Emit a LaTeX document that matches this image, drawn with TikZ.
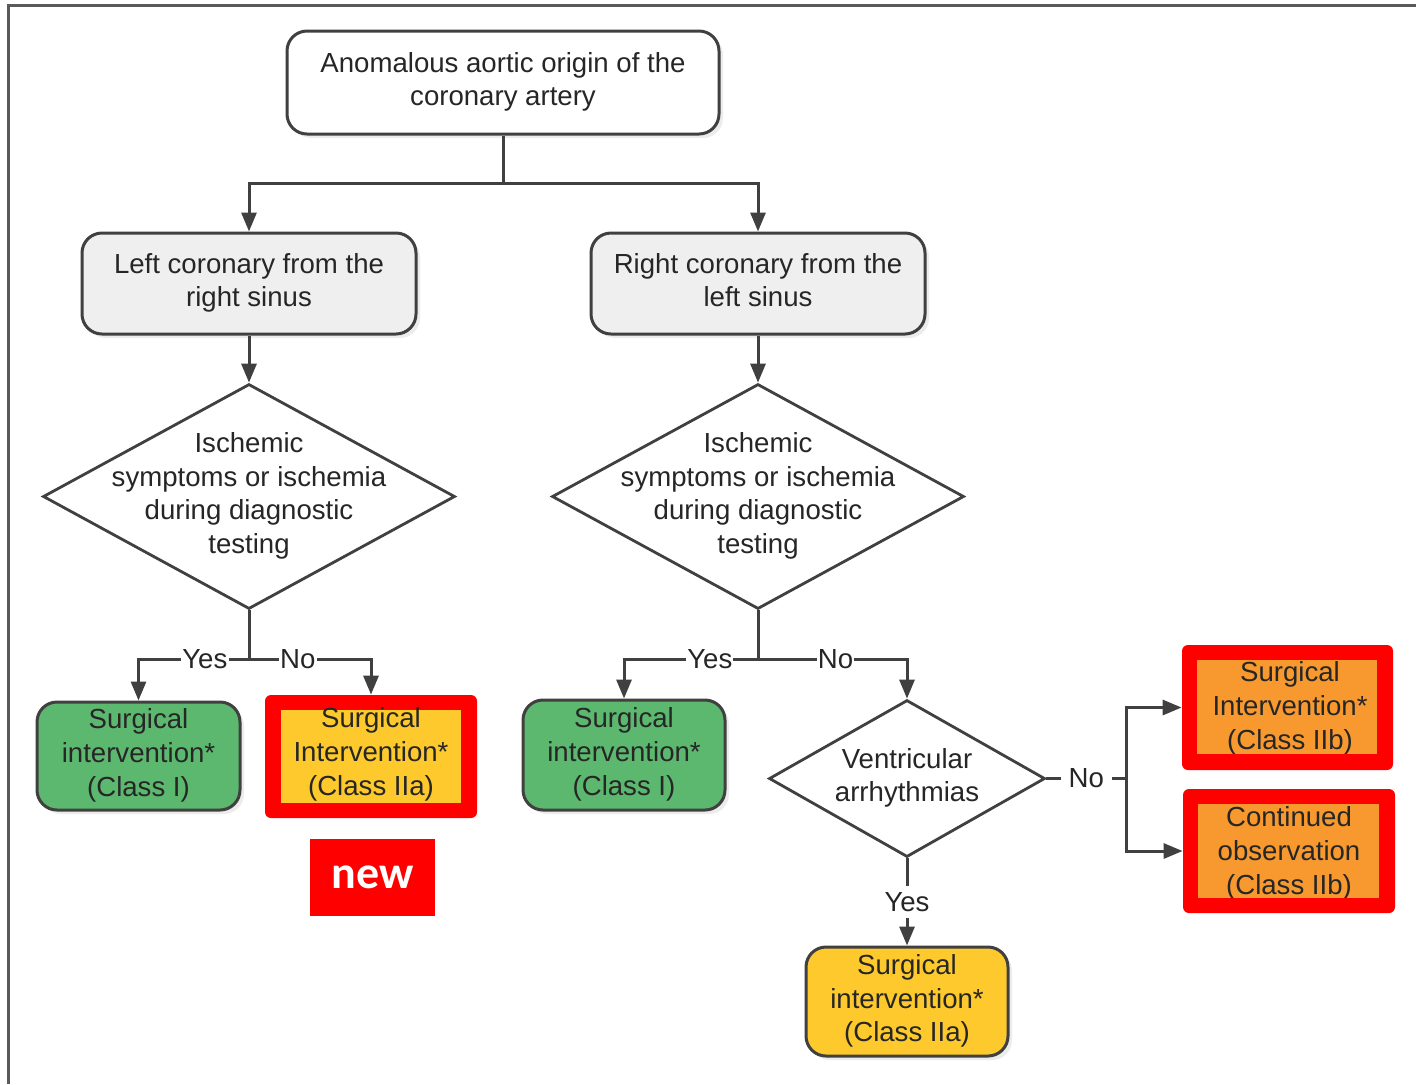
\documentclass[tikz,border=0pt]{standalone}
\usepackage{fontspec}
\setmainfont{Liberation Sans}
\newfontfamily\newlabelfont{Carlito}
\usetikzlibrary{shapes.geometric,arrows.meta,shadows}
\definecolor{bord}{HTML}{404040}
\definecolor{frame}{HTML}{5A5A5A}
\definecolor{lgray}{HTML}{EFEFEF}
\definecolor{gfill}{HTML}{5CB86E}
\definecolor{yfill}{HTML}{FDC92C}
\definecolor{ofill}{HTML}{F7992F}
\definecolor{rfill}{HTML}{FF0000}
\newcommand\mystrut{\rule[-3.5pt]{0pt}{19pt}}
\begin{document}
\begin{tikzpicture}[x=0.5pt,y=-0.5pt,
  txtfont/.style={font=\fontsize{13.8}{16.9}\selectfont},
  struts/.style={execute at begin node=\mystrut, execute at end node=\mystrut},
  box/.style={draw=bord, line width=1.5pt, rounded corners=10pt, align=center, txtfont, inner sep=0pt,
    struts, text=black!85, drop shadow={opacity=0.15, shadow xshift=2pt, shadow yshift=-2pt}},
  dia/.style={diamond, draw=bord, line width=1.4pt, fill=white, inner sep=0pt},
  dtext/.style={align=center, txtfont, struts, text=black!85, inner sep=0pt},
  redframe/.style={fill=rfill, draw=none, rounded corners=3pt, inner sep=0pt},
  inner/.style={draw=none, inner sep=0pt},
  conn/.style={draw=bord, line width=1.5pt},
  arr/.style={conn, -{Triangle[width=7.5pt,length=9.5pt]}},
  lbl/.style={fill=white, txtfont, text=black!85, inner sep=0.6pt}
]
\useasboundingbox (0,0) rectangle (1416,1084);
\fill[white] (0,0) rectangle (1416,1084);
% outer frame
\draw[frame, line width=1.5pt] (8,1084) -- (8,5) -- (1416,5);

% boxes
\node[box, fill=white, minimum width=216pt, minimum height=51.5pt] (top) at (503,82.5)
  {Anomalous aortic origin of the\\coronary artery};
\node[box, fill=lgray, minimum width=167pt, minimum height=50.5pt] (L) at (249,283.5)
  {Left coronary from the\\right sinus};
\node[box, fill=lgray, minimum width=167pt, minimum height=50.5pt] (R) at (758,283.5)
  {Right coronary from the\\left sinus};

% diamonds
\node[dia, minimum width=206pt, minimum height=112.5pt] (d1) at (249,496.5) {};
\node[dtext] at (d1) {Ischemic\\symptoms or ischemia\\during diagnostic\\testing};
\node[dia, minimum width=206pt, minimum height=112.5pt] (d2) at (758,496.5) {};
\node[dtext] at (d2) {Ischemic\\symptoms or ischemia\\during diagnostic\\testing};
\node[dia, minimum width=138pt, minimum height=78.5pt] (d3) at (907,778.5) {};
\node[dtext] at (d3) {Ventricular\\arrhythmias};

% green boxes
\node[box, fill=gfill, minimum width=101.5pt, minimum height=54pt] (g1) at (138.5,756)
  {Surgical\\intervention*\\(Class I)};
\node[box, fill=gfill, minimum width=101pt, minimum height=55pt] (g2) at (624,755)
  {Surgical\\intervention*\\(Class I)};
% yellow bottom box
\node[box, fill=yfill, minimum width=101pt, minimum height=54.5pt] (y3) at (907,1001.5)
  {Surgical\\intervention*\\(Class IIa)};

% red framed boxes
\node[redframe, minimum width=106pt, minimum height=61.5pt] (rf1) at (371,756.5) {};
\node[inner, fill=yfill, minimum width=90pt, minimum height=46.5pt] (in1) at (rf1) {};
\node[dtext] (t1) at (371,755) {Surgical\\Intervention*\\(Class IIa)};
\fill[rfill] (in1.south west) rectangle ([yshift=-3pt]in1.south east);

\node[redframe, minimum width=105.5pt, minimum height=62.5pt] (rf3) at (1287.5,707.5) {};
\node[inner, fill=ofill, minimum width=90pt, minimum height=47pt] (in3) at (1287,707) {};
\node[dtext] (t3) at (1290,709) {Surgical\\Intervention*\\(Class IIb)};
\fill[rfill] (in3.south west) rectangle ([yshift=-3pt]in3.south east);

\node[redframe, minimum width=106pt, minimum height=62pt] (rf4) at (1289,851) {};
\node[inner, fill=ofill, minimum width=90.5pt, minimum height=47pt] (in4) at (1288.5,851) {};
\node[dtext] (t4) at (1289,854) {Continued\\observation\\(Class IIb)};
\fill[rfill] (in4.south west) rectangle ([yshift=-3pt]in4.south east);

% "new" label
\node[fill=rfill, text=white, minimum width=62.5pt, minimum height=38.5pt, inner sep=0pt,
  font=\newlabelfont\bfseries\fontsize{23}{26}\selectfont] (newl) at (372.5,877.5) {new};

% connectors
\coordinate (j0) at (503,183);
\draw[conn] (top.south) -- (j0);
\draw[arr] (j0) -| (L.north);
\draw[arr] (j0) -| (R.north);
\draw[arr] (L.south) -- (d1.north);
\draw[arr] (R.south) -- (d2.north);

\coordinate (j1) at (249,659);
\draw[conn] (d1.south) -- (j1);
\draw[arr] (j1) -| node[lbl, pos=0.2] {Yes} (g1.north);
\draw[arr] (j1) -| node[lbl, pos=0.2] {No} (rf1.north);

\coordinate (j2) at (758,659);
\draw[conn] (d2.south) -- (j2);
\draw[arr] (j2) -| node[lbl, pos=0.18] {Yes} (g2.north);
\draw[arr] (j2) -| node[lbl, pos=0.26] {No} (d3.north);

\coordinate (j3) at (1126,778.5);
\draw[conn] (d3.east) -- node[lbl, inner xsep=4pt] {No} (j3);
\draw[arr] (j3) |- (rf3.west);
\draw[arr] (j3) |- (rf4.west);

\draw[arr] (d3.south) -- node[lbl, inner ysep=3pt] {Yes} (y3.north);
\end{tikzpicture}
\end{document}
